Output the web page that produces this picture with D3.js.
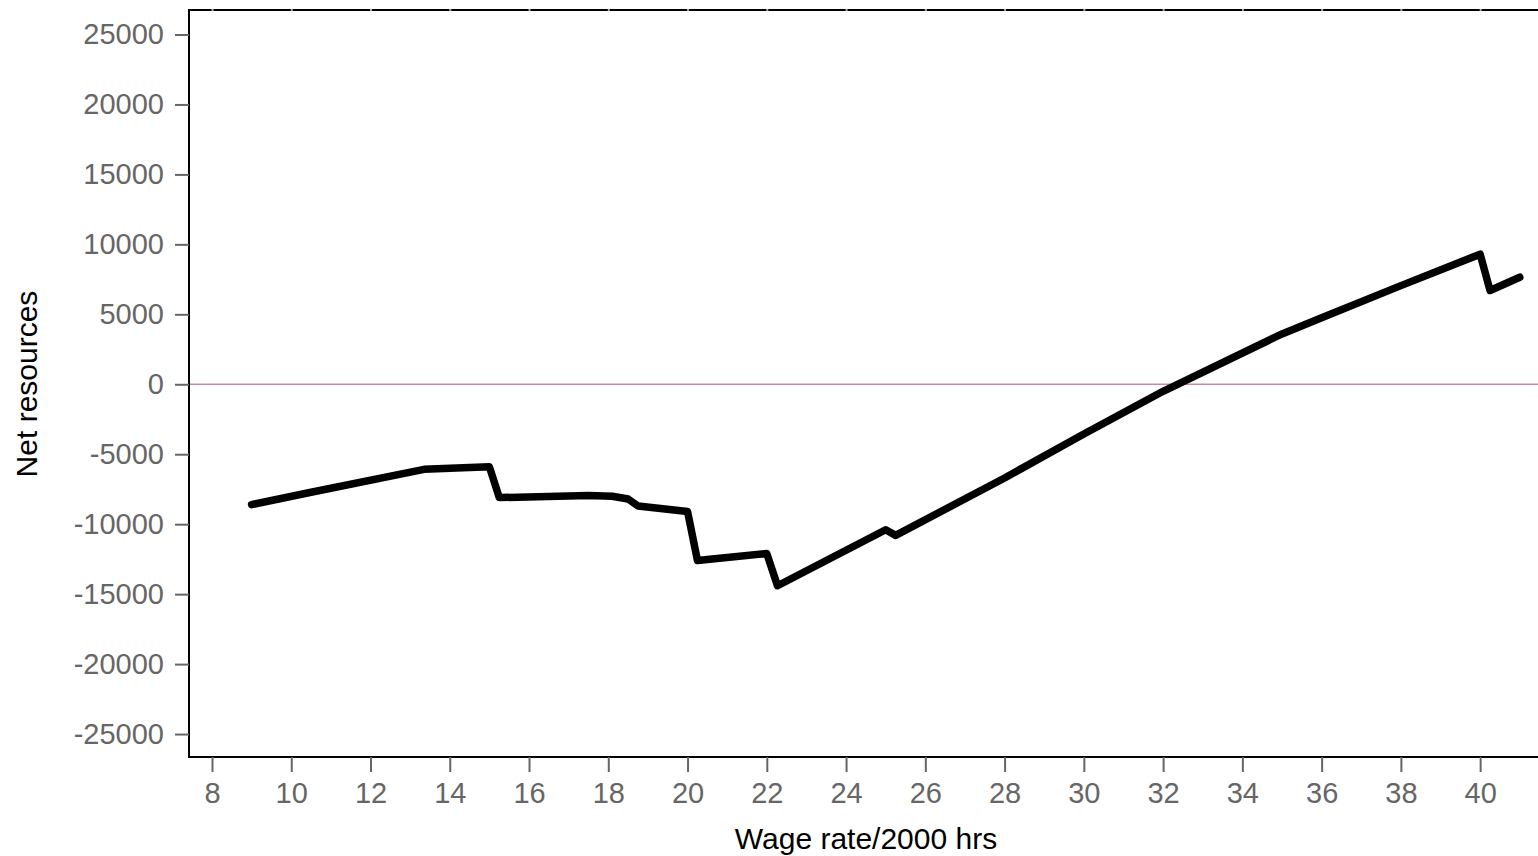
<!DOCTYPE html>
<html>
<head>
<meta charset="utf-8">
<script src="https://cdn.jsdelivr.net/npm/d3@7"></script>
<style>
  body { margin: 0; background: #fff; }
  svg { display: block; font-family: "Liberation Sans", Arial, Helvetica, sans-serif; }
</style>
</head>
<body>
<div id="graph"></div>
<script>
// wage rate (per 2000 hrs, in $) and net resources
const wages = [9, 10.5, 13.35, 15, 15.25, 17.5, 18.1, 18.5, 18.75, 20, 20.25, 22, 22.27, 25, 25.25, 28, 30, 32, 35, 36, 38, 40, 40.25, 41];
const netResources = [-8600, -7720, -6080, -5900, -8100, -7950, -8000, -8200, -8700, -9100, -12600, -12100, -14400, -10400, -10800, -6700, -3550, -500, 3600, 4750, 7050, 9300, 6700, 7650];
const xTicks = [8, 10, 12, 14, 16, 18, 20, 22, 24, 26, 28, 30, 32, 34, 36, 38, 40];
const yTicks = [-25000, -20000, -15000, -10000, -5000, 0, 5000, 10000, 15000, 20000, 25000];

const width = 1538, height = 856;
const plotLeft = 189, plotTop = 10, plotBottom = 757;

const createSVG = () => {
    return d3.select("#graph")
        .append("svg")
        .attr("width", width)
        .attr("height", height);
};

const createScales = () => {
    const xScale = d3.scaleLinear()
        .domain([7.42, 41.6])
        .range([plotLeft, plotLeft + (41.6 - 7.42) * 39.63]);
    const yScale = d3.scaleLinear()
        .domain([-26640, 26750])
        .range([plotBottom, plotTop]);
    return [xScale, yScale];
};

const styleAxis = (g) => {
    g.select(".domain").remove();
    g.selectAll(".tick line").attr("stroke", "#666").attr("stroke-width", 2);
    g.selectAll(".tick text")
        .attr("fill", "#666")
        .attr("font-size", 29);
};

const createAxes = (svg, xScale, yScale) => {
    // frame lines
    svg.append("line")
        .attr("x1", plotLeft).attr("x2", plotLeft)
        .attr("y1", plotTop - 1).attr("y2", plotBottom + 1)
        .attr("stroke", "#000").attr("stroke-width", 2);
    svg.append("line")
        .attr("x1", plotLeft - 1).attr("x2", width)
        .attr("y1", plotBottom).attr("y2", plotBottom)
        .attr("stroke", "#000").attr("stroke-width", 2);
    svg.append("line")
        .attr("x1", plotLeft - 1).attr("x2", width)
        .attr("y1", plotTop).attr("y2", plotTop)
        .attr("stroke", "#000").attr("stroke-width", 2);

    svg.append("g")
        .attr("transform", "translate(0," + plotBottom + ")")
        .call(d3.axisBottom(xScale).tickValues(xTicks).tickSize(15).tickPadding(10).tickFormat(d3.format("d")))
        .call(styleAxis);

    // top axis ticks: only their ends show, as light notches in the top line
    svg.append("g")
        .attr("transform", "translate(0," + (plotTop + 1) + ")")
        .call(d3.axisTop(xScale).tickValues(xTicks).tickSize(2).tickFormat(""))
        .call(styleAxis)
        .selectAll(".tick line").attr("stroke", "#aaa");

    svg.append("g")
        .attr("transform", "translate(" + plotLeft + ",0)")
        .call(d3.axisLeft(yScale).tickValues(yTicks).tickSize(14).tickPadding(11).tickFormat(d => String(d)))
        .call(styleAxis)
        .selectAll(".tick text").attr("dy", "0.31em");

    svg.append("text")
        .attr("x", 866).attr("y", 849)
        .attr("text-anchor", "middle")
        .attr("font-size", 30)
        .attr("fill", "#000")
        .text("Wage rate/2000 hrs");

    svg.append("text")
        .attr("transform", "translate(37," + 384 + ") rotate(-90)")
        .attr("text-anchor", "middle")
        .attr("font-size", 30)
        .attr("fill", "#000")
        .text("Net resources");
};

const createChart = (svg, xScale, yScale) => {
    svg.append("line")
        .attr("x1", plotLeft + 1).attr("x2", width)
        .attr("y1", yScale(0)).attr("y2", yScale(0))
        .attr("stroke", "#c98aa3").attr("stroke-width", 1.6);

    const points = wages.map((w, i) => ({ wage: w, value: netResources[i] }));
    const lineElement = d3.line()
        .x(d => xScale(d.wage))
        .y(d => yScale(d.value));
    svg.append("path")
        .datum(points)
        .attr("fill", "none")
        .attr("stroke", "#000")
        .attr("stroke-width", 7.5)
        .attr("stroke-linejoin", "round")
        .attr("stroke-linecap", "round")
        .attr("d", lineElement);
};

const svg = createSVG();
const [xScale, yScale] = createScales();
createChart(svg, xScale, yScale);
createAxes(svg, xScale, yScale);
</script>
</body>
</html>
